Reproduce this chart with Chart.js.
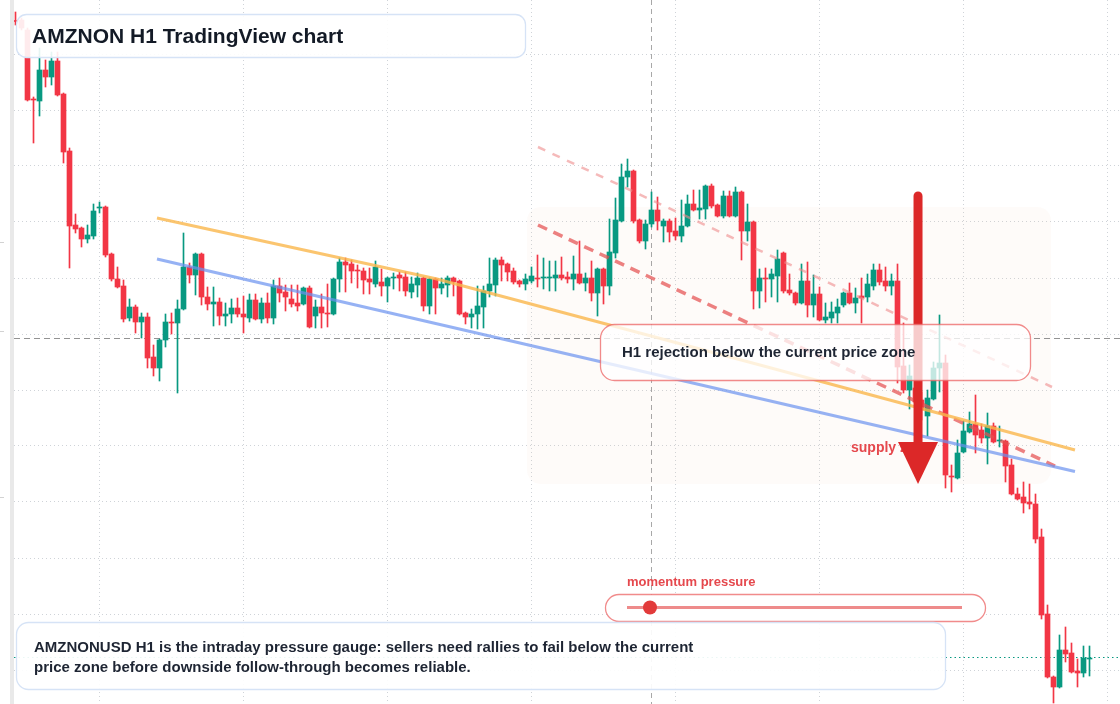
<!DOCTYPE html>
<html>
<head>
<meta charset="utf-8">
<script src="https://cdn.jsdelivr.net/npm/chart.js@4.4.1/dist/chart.umd.min.js"></script>
<style>
  html, body { margin: 0; padding: 0; background: #fff; }
  #wrap { width: 1120px; height: 704px; }
</style>
</head>
<body>
<div id="wrap"><canvas id="myChart" width="1120" height="704"></canvas></div>
<script>
  // H1 candles (price units, oldest first)
  var openP = [
    257.95, 258.0, 257.0, 250.1, 249.9, 253.0, 252.3, 253.9, 250.6, 244.9,
    237.5, 237.2, 236.1, 236.4, 239.2, 239.3, 234.6, 232.1, 231.4, 228.2,
    229.3, 227.8, 228.3, 224.3, 223.2, 226.0, 227.8, 227.7, 229.1, 233.3,
    232.5, 234.6, 230.3, 229.6, 229.8, 228.4, 228.6, 229.2, 228.6, 228.2,
    230.0, 228.1, 229.7, 228.2, 231.4, 230.8, 230.1, 229.7, 229.6, 231.2,
    228.4, 229.3, 228.7, 228.6, 232.1, 233.8, 233.6, 233.0, 232.9, 232.1,
    231.6, 231.8, 231.4, 232.2, 232.5, 232.3, 230.8, 231.5, 232.2, 229.4,
    232.1, 231.2, 231.5, 232.2, 231.9, 228.7, 228.3, 228.6, 229.3, 230.9,
    231.5, 234.0, 233.6, 232.9, 231.9, 231.6, 231.9, 232.2, 232.2, 232.2,
    232.2, 232.5, 232.3, 232.1, 232.6, 231.7, 232.2, 230.7, 233.1, 231.4,
    234.7, 237.9, 242.3, 242.9, 238.0, 235.9, 237.6, 239.0, 237.4, 237.9,
    236.9, 236.4, 237.4, 239.6, 239.0, 239.1, 241.4, 239.5, 238.4, 240.4,
    238.4, 240.8, 236.9, 237.8, 230.9, 232.2, 232.1, 232.4, 234.7, 231.0,
    230.7, 229.7, 231.9, 229.5, 230.6, 228.0, 228.2, 228.7, 229.5, 230.7,
    229.7, 230.4, 230.3, 231.4, 233.0, 231.9, 231.4, 231.9, 223.4, 221.0,
    221.2, 220.0, 218.4, 220.1, 223.2, 223.7, 212.4, 212.2, 214.8, 216.8,
    217.6, 217.0, 216.2, 217.4, 215.9, 215.9, 213.5, 210.6, 210.3, 209.8,
    209.6, 206.3, 198.6, 192.3, 191.3, 195.0, 194.7, 192.9, 192.7, 194.1
  ];
  var highP = [
    258.8, 258.2, 257.2, 250.3, 255.2, 254.0, 254.8, 254.8, 250.7, 245.2,
    238.6, 237.3, 237.5, 239.6, 239.8, 239.4, 234.7, 233.3, 232.0, 230.1,
    229.5, 228.7, 228.7, 225.5, 226.1, 228.6, 228.7, 230.0, 236.7, 233.7,
    234.7, 234.7, 231.3, 231.3, 230.2, 229.7, 230.1, 230.2, 230.4, 230.6,
    230.6, 230.2, 230.7, 232.0, 232.2, 231.5, 231.5, 231.5, 231.3, 231.4,
    230.0, 230.6, 231.6, 232.2, 234.2, 234.2, 234.0, 233.5, 233.2, 233.2,
    233.9, 233.1, 232.3, 232.7, 232.8, 232.8, 232.3, 232.7, 232.3, 232.2,
    232.2, 232.2, 232.4, 232.3, 232.0, 228.8, 229.1, 231.4, 231.4, 234.2,
    234.2, 234.3, 233.7, 233.2, 232.0, 232.6, 233.3, 234.5, 234.2, 233.9,
    233.9, 234.3, 232.8, 234.4, 235.9, 232.7, 233.9, 233.2, 233.2, 238.1,
    240.2, 243.6, 244.1, 243.0, 238.1, 238.0, 240.8, 240.3, 238.1, 238.1,
    238.2, 240.0, 240.5, 241.0, 241.0, 241.5, 241.6, 239.6, 240.9, 240.9,
    241.3, 240.9, 239.6, 237.9, 233.1, 233.2, 233.1, 235.0, 234.8, 232.6,
    230.8, 233.6, 233.8, 232.5, 231.3, 229.7, 229.8, 230.1, 230.8, 231.7,
    231.2, 232.2, 232.6, 233.6, 233.6, 233.3, 232.6, 233.6, 227.7, 223.5,
    222.0, 220.8, 221.0, 223.8, 228.5, 224.5, 213.5, 216.0, 217.9, 218.8,
    220.5, 217.6, 218.7, 217.7, 217.4, 216.0, 214.1, 211.2, 211.8, 211.6,
    210.6, 207.1, 199.5, 192.4, 196.5, 197.3, 195.7, 194.1, 195.4, 195.4
  ];
  var lowP = [
    257.5, 257.0, 249.9, 245.7, 248.4, 251.3, 251.5, 250.4, 243.7, 233.2,
    236.7, 235.3, 235.7, 236.1, 238.7, 234.3, 231.9, 231.2, 227.8, 227.9,
    226.7, 226.2, 223.2, 222.4, 221.9, 225.3, 226.6, 220.7, 229.0, 231.7,
    230.5, 229.5, 229.0, 227.4, 227.5, 227.4, 227.7, 228.3, 226.7, 227.8,
    228.0, 227.7, 227.7, 227.6, 229.8, 228.9, 229.3, 228.9, 229.5, 227.2,
    227.2, 227.2, 227.3, 228.5, 230.8, 230.8, 231.7, 231.2, 230.6, 230.6,
    231.3, 230.4, 229.8, 231.1, 230.9, 230.4, 230.2, 230.3, 228.9, 228.6,
    228.6, 230.6, 230.3, 230.4, 228.5, 227.6, 227.2, 227.1, 227.2, 230.3,
    230.4, 231.9, 231.9, 231.6, 231.3, 231.0, 231.7, 231.3, 231.1, 230.9,
    230.9, 232.0, 231.7, 231.0, 231.6, 230.9, 229.9, 228.4, 229.6, 230.5,
    234.2, 237.8, 241.3, 237.7, 235.7, 235.1, 237.3, 237.0, 235.8, 235.8,
    236.0, 235.8, 237.3, 238.9, 238.1, 238.1, 239.2, 238.3, 238.2, 238.3,
    238.3, 234.0, 235.9, 229.1, 229.2, 229.8, 230.3, 229.8, 230.7, 230.5,
    229.5, 229.6, 228.3, 228.3, 227.9, 227.7, 227.7, 227.7, 229.3, 229.6,
    228.7, 227.7, 229.8, 231.0, 231.5, 230.9, 230.5, 221.7, 220.7, 219.1,
    218.8, 218.0, 216.4, 220.0, 220.8, 211.2, 210.8, 212.1, 214.7, 216.7,
    214.7, 215.7, 213.6, 215.7, 215.3, 211.8, 210.5, 210.0, 208.7, 209.1,
    205.7, 198.1, 192.2, 189.7, 191.2, 193.8, 192.7, 191.3, 192.3, 192.4
  ];
  var closeP = [
    257.85, 257.2, 250.0, 250.0, 253.0, 252.3, 253.9, 250.5, 244.8, 237.4,
    237.1, 236.1, 236.5, 238.9, 239.3, 234.5, 232.1, 231.3, 228.1, 229.3,
    227.8, 228.3, 224.2, 223.2, 226.0, 227.8, 227.7, 229.1, 233.3, 232.5,
    234.6, 230.3, 229.6, 229.8, 228.4, 228.6, 229.2, 228.6, 228.3, 230.0,
    228.1, 229.7, 228.2, 231.4, 230.7, 230.3, 229.6, 229.4, 231.2, 227.3,
    229.3, 228.7, 228.6, 232.1, 233.8, 233.5, 232.9, 232.9, 232.0, 231.8,
    233.3, 231.4, 232.2, 232.3, 232.2, 230.9, 231.6, 232.2, 229.4, 232.1,
    231.2, 231.6, 232.2, 231.8, 228.6, 228.3, 228.6, 229.4, 230.9, 231.6,
    234.0, 233.5, 232.8, 231.8, 231.6, 232.1, 232.4, 232.1, 232.3, 232.3,
    232.5, 232.2, 232.1, 232.6, 231.7, 232.2, 230.7, 233.1, 231.4, 234.8,
    238.0, 242.3, 242.9, 237.9, 235.9, 237.6, 239.0, 237.9, 237.9, 236.8,
    236.4, 237.4, 239.6, 239.0, 239.2, 241.4, 239.4, 238.4, 240.4, 238.4,
    240.8, 236.9, 237.8, 230.9, 232.2, 232.1, 232.6, 234.1, 230.9, 230.7,
    229.7, 231.9, 229.5, 230.6, 228.0, 228.3, 228.8, 229.3, 230.7, 229.7,
    230.2, 230.2, 231.6, 233.0, 231.8, 231.4, 231.9, 223.3, 221.0, 222.4,
    219.8, 219.0, 220.2, 223.2, 223.7, 212.5, 212.3, 214.7, 216.9, 217.6,
    216.5, 216.2, 217.4, 215.8, 216.0, 213.4, 210.6, 210.1, 209.7, 209.6,
    206.1, 198.5, 192.3, 191.3, 195.0, 194.6, 192.8, 192.7, 194.2, 194.2
  ];

  // drawn levels: [bar index, price]
  var resistanceLine = [[23.58, 238.2], [70.25, 232.1], [124.08, 223.5], [176.58, 215.0]];
  var supportLine = [[23.58, 234.1], [176.58, 212.85]];
  var channelLow = [[87.08, 237.5], [173.25, 213.4]];
  var channelHigh = [[87.08, 245.3], [172.75, 221.3]];
  var supplyZone = { from: 85.25, to: 172.6, top: 239.3, bottom: 211.6 };
  var arrowAt = { x: 150.42, top: 240.4, base: 215.8, tip: 211.6 };
  var cursorIndex = 105.92;
  var currentPrice = 226.2;
  var lastPrice = 194.3;

  // grid positions (no tick labels are shown)
  var gridX = [14.08, 38.08, 62.08, 86.08, 110.08, 134.08, 158.08, 182.08];
  var gridY = [254.6, 249.0, 243.4, 237.8, 232.2, 226.6, 221.0, 215.4, 209.8, 204.2, 198.6, 193.0];

  var upColor = '#089981';
  var downColor = '#f23645';

  var candleColors = openP.map(function (o, i) { return closeP[i] > o ? upColor : downColor; });
  var bodyData = openP.map(function (o, i) { return { x: i, y: [o, closeP[i]] }; });
  var wickData = lowP.map(function (l, i) { return { x: i, y: [l, highP[i]] }; });
  function toPoints(arr) { return arr.map(function (p) { return { x: p[0], y: p[1] }; }); }

  function roundRectPath(ctx, x, y, w, h, r) {
    ctx.beginPath();
    ctx.moveTo(x + r, y);
    ctx.arcTo(x + w, y, x + w, y + h, r);
    ctx.arcTo(x + w, y + h, x, y + h, r);
    ctx.arcTo(x, y + h, x, y, r);
    ctx.arcTo(x, y, x + w, y, r);
    ctx.closePath();
  }

  var overlay = {
    id: 'overlay',
    beforeDraw: function (chart) {
      var ctx = chart.ctx;
      ctx.save();
      ctx.fillStyle = '#ffffff';
      ctx.fillRect(0, 0, chart.width, chart.height);
      ctx.fillStyle = '#e9e9e9';
      ctx.fillRect(10, 0, 4, chart.height);
      ctx.fillStyle = '#d2d2d2';
      [242, 331, 497].forEach(function (y) { ctx.fillRect(0, y, 4, 1); });
      ctx.restore();
    },
    beforeDatasetsDraw: function (chart) {
      var ctx = chart.ctx, xs = chart.scales.x, ys = chart.scales.y, area = chart.chartArea;
      ctx.save();
      // supply zone
      var zx0 = xs.getPixelForValue(supplyZone.from), zx1 = xs.getPixelForValue(supplyZone.to);
      var zy0 = ys.getPixelForValue(supplyZone.top), zy1 = ys.getPixelForValue(supplyZone.bottom);
      roundRectPath(ctx, zx0, zy0, zx1 - zx0, zy1 - zy0, 14);
      ctx.fillStyle = 'rgba(240, 200, 170, 0.07)';
      ctx.fill();
      // crosshair
      ctx.strokeStyle = 'rgba(110, 110, 110, 0.6)';
      ctx.lineWidth = 1;
      ctx.setLineDash([5, 4]);
      var cx = Math.round(xs.getPixelForValue(cursorIndex)) + 0.5;
      ctx.beginPath(); ctx.moveTo(cx, area.top); ctx.lineTo(cx, area.bottom); ctx.stroke();
      ctx.strokeStyle = 'rgba(120, 120, 120, 0.8)';
      ctx.lineWidth = 1.2;
      ctx.setLineDash([6, 4]);
      var cy = Math.round(ys.getPixelForValue(currentPrice)) + 0.5;
      ctx.beginPath(); ctx.moveTo(area.left, cy); ctx.lineTo(area.right, cy); ctx.stroke();
      // last price
      ctx.strokeStyle = upColor;
      ctx.lineWidth = 1;
      ctx.setLineDash([1.5, 3]);
      var ly = Math.round(ys.getPixelForValue(lastPrice)) + 0.5;
      ctx.beginPath(); ctx.moveTo(area.left, ly); ctx.lineTo(area.right, ly); ctx.stroke();
      ctx.restore();
    },
    afterDatasetsDraw: function (chart) {
      var ctx = chart.ctx, xs = chart.scales.x, ys = chart.scales.y;
      ctx.save();

      // supply zone label
      ctx.font = 'bold 14px "Liberation Sans", Arial, sans-serif';
      ctx.fillStyle = '#e5484d';
      ctx.textBaseline = 'middle';
      ctx.fillText('supply zone', 851, 448);

      // down arrow
      var ax = xs.getPixelForValue(arrowAt.x);
      var aTop = ys.getPixelForValue(arrowAt.top), aBase = ys.getPixelForValue(arrowAt.base), aTip = ys.getPixelForValue(arrowAt.tip);
      ctx.strokeStyle = '#dc2828';
      ctx.fillStyle = '#dc2828';
      ctx.lineWidth = 9;
      ctx.lineCap = 'round';
      ctx.beginPath(); ctx.moveTo(ax, aTop); ctx.lineTo(ax, aBase + 4); ctx.stroke();
      ctx.lineCap = 'butt';
      ctx.beginPath();
      ctx.moveTo(ax - 20, aBase); ctx.lineTo(ax + 20, aBase); ctx.lineTo(ax, aTip);
      ctx.closePath(); ctx.fill();

      // callout
      roundRectPath(ctx, 600.5, 324.5, 430, 56, 14);
      ctx.fillStyle = 'rgba(255, 255, 255, 0.76)';
      ctx.fill();
      ctx.strokeStyle = 'rgba(236, 100, 100, 0.75)';
      ctx.lineWidth = 1.3;
      ctx.stroke();
      ctx.font = 'bold 15px "Liberation Sans", Arial, sans-serif';
      ctx.fillStyle = '#1e2533';
      ctx.fillText('H1 rejection below the current price zone', 622, 353);

      // momentum gauge
      ctx.font = 'bold 13px "Liberation Sans", Arial, sans-serif';
      ctx.fillStyle = '#e5484d';
      ctx.fillText('momentum pressure', 627, 582);
      roundRectPath(ctx, 605.5, 594.5, 380, 27, 13.5);
      ctx.fillStyle = '#ffffff';
      ctx.fill();
      ctx.strokeStyle = 'rgba(236, 100, 100, 0.75)';
      ctx.lineWidth = 1.3;
      ctx.stroke();
      ctx.strokeStyle = 'rgba(232, 100, 100, 0.75)';
      ctx.lineWidth = 3;
      ctx.beginPath(); ctx.moveTo(627, 607.5); ctx.lineTo(962, 607.5); ctx.stroke();
      ctx.fillStyle = '#e23b3b';
      ctx.beginPath(); ctx.arc(650, 607.5, 7, 0, Math.PI * 2); ctx.fill();

      // bottom note
      roundRectPath(ctx, 16.5, 622.5, 929, 67, 12);
      ctx.fillStyle = 'rgba(255, 255, 255, 0.92)';
      ctx.fill();
      ctx.strokeStyle = '#d6e3f6';
      ctx.lineWidth = 1.3;
      ctx.stroke();
      ctx.font = 'bold 15px "Liberation Sans", Arial, sans-serif';
      ctx.fillStyle = '#1e2533';
      ctx.fillText('AMZNONUSD H1 is the intraday pressure gauge: sellers need rallies to fail below the current', 34, 648);
      ctx.fillText('price zone before downside follow-through becomes reliable.', 34, 668);

      // title
      roundRectPath(ctx, 16.5, 14.5, 509, 43, 10);
      ctx.fillStyle = 'rgba(255, 255, 255, 0.9)';
      ctx.fill();
      ctx.strokeStyle = '#d6e3f6';
      ctx.stroke();
      ctx.font = 'bold 21px "Liberation Sans", Arial, sans-serif';
      ctx.fillStyle = '#131a26';
      ctx.fillText('AMZNON H1 TradingView chart', 32, 37);

      ctx.restore();
    }
  };

  var ctx = document.getElementById('myChart').getContext('2d');

  var chart = new Chart(ctx, {
    type: 'bar',
    data: {
      datasets: [
        { type: 'line', data: toPoints(resistanceLine), borderColor: 'rgba(250, 182, 75, 0.8)', borderWidth: 3, pointRadius: 0, order: 1 },
        { type: 'line', data: toPoints(supportLine), borderColor: 'rgba(105, 145, 240, 0.7)', borderWidth: 3, pointRadius: 0, order: 1 },
        { type: 'line', data: toPoints(channelLow), borderColor: 'rgba(228, 80, 80, 0.72)', borderWidth: 3.5, borderDash: [10, 7], pointRadius: 0, order: 1 },
        { type: 'line', data: toPoints(channelHigh), borderColor: 'rgba(238, 140, 140, 0.6)', borderWidth: 2.5, borderDash: [8, 8], pointRadius: 0, order: 1 },
        { label: 'body', data: bodyData, backgroundColor: candleColors, barThickness: 5, grouped: false, order: 2 },
        { label: 'wick', data: wickData, backgroundColor: candleColors, barThickness: 1, grouped: false, order: 3 }
      ]
    },
    options: {
      responsive: false,
      animation: false,
      layout: { padding: { left: 14, right: 0, top: 0, bottom: 0 } },
      plugins: { legend: { display: false }, tooltip: { enabled: false } },
      scales: {
        x: {
          type: 'linear', min: -0.25, max: 184.0833, offset: false,
          afterBuildTicks: function (s) { s.ticks = gridX.map(function (v) { return { value: v }; }); },
          ticks: { display: false },
          grid: { color: '#cfd3d8', lineWidth: 1, drawTicks: false, offset: false },
          border: { display: false, dash: [1, 3] }
        },
        y: {
          type: 'linear', min: 189.6, max: 260,
          afterBuildTicks: function (s) { s.ticks = gridY.map(function (v) { return { value: v }; }); },
          ticks: { display: false },
          grid: { color: '#cfd3d8', lineWidth: 1, drawTicks: false },
          border: { display: false, dash: [1, 3] }
        }
      }
    },
    plugins: [overlay]
  });
</script>
</body>
</html>
